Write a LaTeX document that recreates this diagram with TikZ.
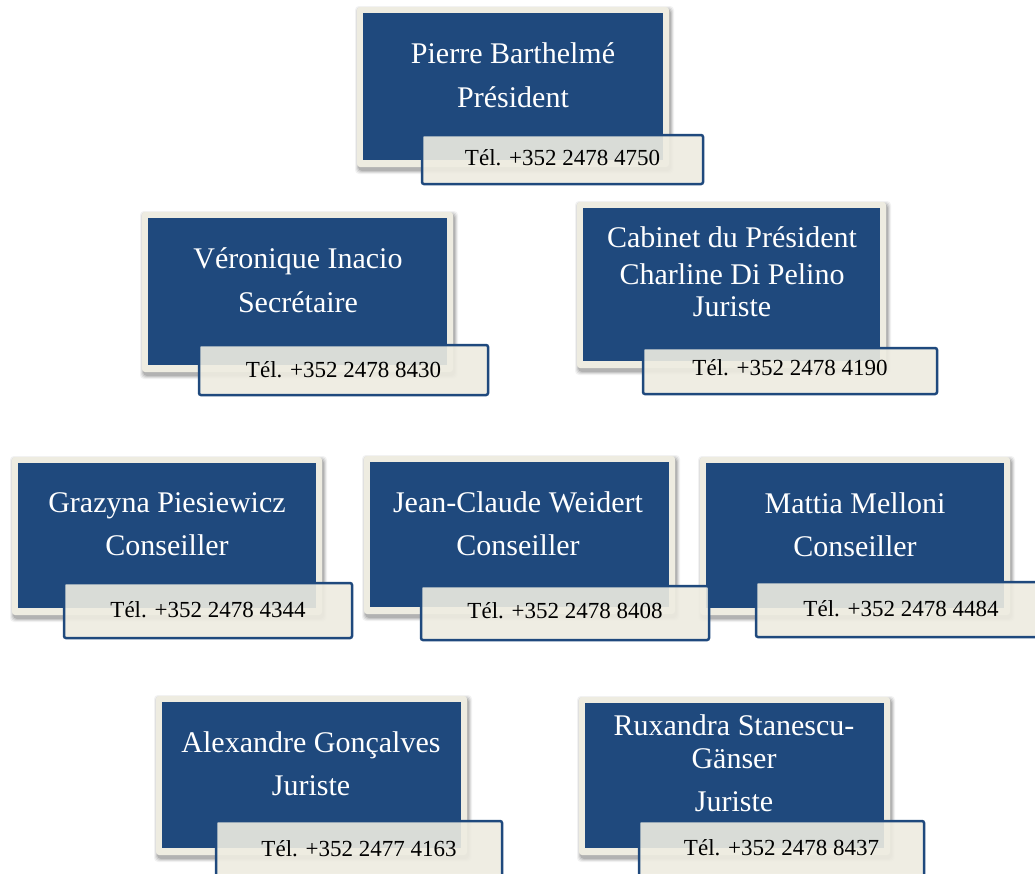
\documentclass[tikz,border=0pt]{standalone}
\usepackage{fontspec}
\setmainfont{Liberation Serif}
\definecolor{navy}{HTML}{1F497D}
\definecolor{cream}{HTML}{EEECE1}
\tikzset{
  framebox/.style={fill=cream, rounded corners=3pt},
  bluebox/.style={fill=navy},
  telbox/.style={fill=cream, fill opacity=0.9, draw=navy, line width=2.5pt, rounded corners=2pt},
  nametext/.style={text=white, font=\fontsize{30}{36}\selectfont, anchor=base, inner sep=0pt},
  teltext/.style={text=black, font=\fontsize{23}{27}\selectfont, anchor=base, inner sep=0pt}
}
\newcommand\orgcard[5]{%
  \foreach \s/\o in {4/0.05,3/0.07,2/0.09,1/0.12}{%
    \fill[black, opacity=\o, rounded corners=4pt] (#2+2-\s,#3+3-\s) rectangle (#4+1+\s,#5+3+\s);}
  \coordinate (#1-nw) at (#2,#3);
  \coordinate (#1-se) at (#4,#5);
  \fill[framebox] (#1-nw) rectangle (#1-se);
  \fill[bluebox] (#2+6,#3+6) rectangle (#4-6,#5-7);
}
\newcommand\orgtel[7]{%
  \coordinate (#1-tnw) at (#2+1,#3+1);
  \coordinate (#1-tse) at (#4-1,#5-1);
  \draw[telbox] (#1-tnw) rectangle (#1-tse);
  \node[teltext] (#1-tel) at ({(#2+#4)/2},#6) {#7};
}
\begin{document}
\begin{tikzpicture}[x=1pt,y=-1pt]
\clip (0,0) rectangle (1035,873);
\fill[white] (0,0) rectangle (1035,873);

% cards
\orgcard{A}{357}{7}{669}{167}
\node[nametext] (A-1) at (513,63) {Pierre Barthelmé};
\node[nametext] (A-2) at (513,107) {Président};

\orgcard{B}{142}{212}{453}{372}
\node[nametext] (B-1) at (298,268) {Véronique Inacio};
\node[nametext] (B-2) at (298,312) {Secrétaire};

\orgcard{C}{577}{202}{886}{368}
\node[nametext] (C-1) at (732,247) {Cabinet du Président};
\node[nametext] (C-2) at (732,284) {Charline Di Pelino};
\node[nametext] (C-3) at (732,316) {Juriste};

\orgcard{D}{12}{457}{322}{615}
\node[nametext] (D-1) at (167,512) {Grazyna Piesiewicz};
\node[nametext] (D-2) at (167,555) {Conseiller};

\orgcard{E}{364}{456}{675}{614}
\node[nametext] (E-1) at (518,512) {Jean-Claude Weidert};
\node[nametext] (E-2) at (518,555) {Conseiller};

\orgcard{F}{700}{457}{1010}{615}
\node[nametext] (F-1) at (855,513) {Mattia Melloni};
\node[nametext] (F-2) at (855,556) {Conseiller};

\orgcard{G}{156}{696}{467}{855}
\node[nametext] (G-1) at (311,752) {Alexandre Gonçalves};
\node[nametext] (G-2) at (311,795) {Juriste};

\orgcard{H}{579}{697}{890}{855}
\node[nametext] (H-1) at (734,735) {Ruxandra Stanescu-};
\node[nametext] (H-2) at (734,768) {Gänser};
\node[nametext] (H-3) at (734,811) {Juriste};

% phone boxes
\orgtel{A}{421}{134}{704}{185}{165}{Tél. +352 2478 4750}
\orgtel{B}{198}{344}{489}{396}{377}{Tél. +352 2478 8430}
\orgtel{C}{642}{347}{938}{395}{375}{Tél. +352 2478 4190}
\orgtel{D}{63}{582}{353}{639}{617}{Tél. +352 2478 4344}
\orgtel{E}{420}{585}{710}{641}{618}{Tél. +352 2478 8408}
\orgtel{F}{755}{581}{1047}{638}{616}{Tél. +352 2478 4484}
\orgtel{G}{215}{820}{503}{880}{856}{Tél. +352 2477 4163}
\orgtel{H}{638}{820}{925}{880}{855}{Tél. +352 2478 8437}
\end{tikzpicture}
\end{document}
